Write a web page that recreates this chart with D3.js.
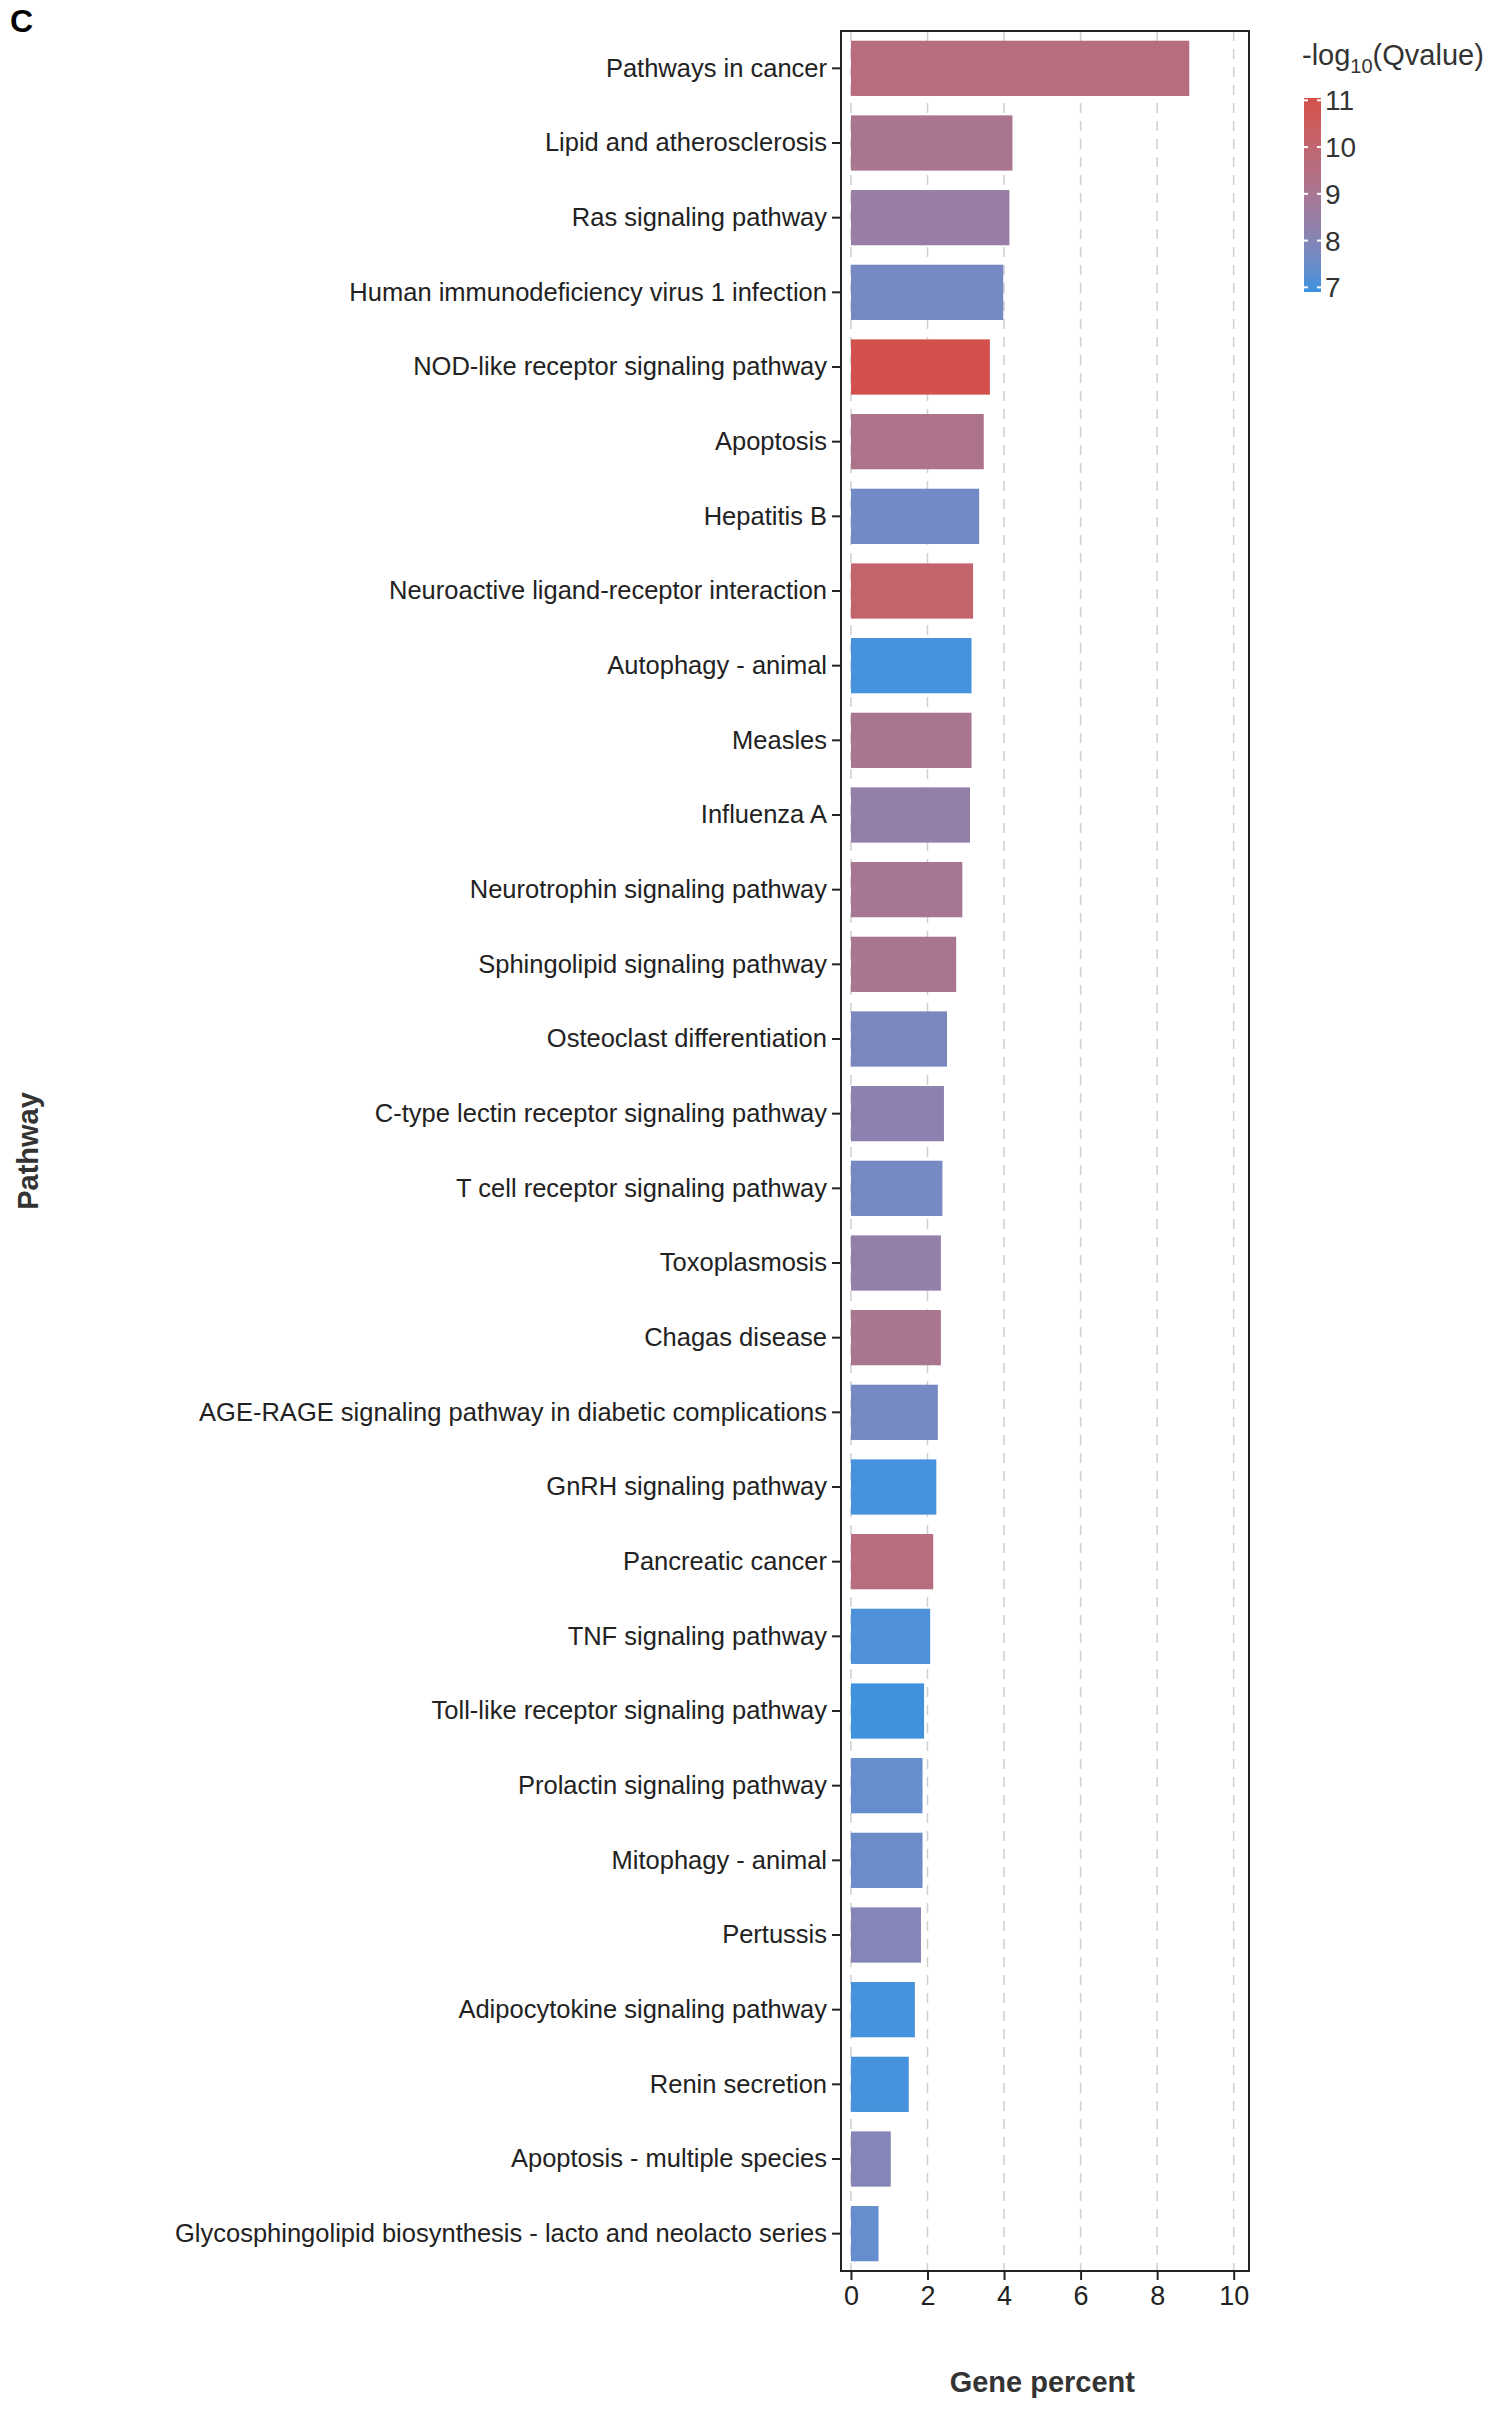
<!DOCTYPE html>
<html><head><meta charset="utf-8">
<script src="https://cdn.jsdelivr.net/npm/d3@7"></script>
<style>body{margin:0;background:#fff;font-family:"Liberation Sans",Arial,sans-serif;}</style>
</head><body>
<svg id="chart" width="1512" height="2416"></svg>
<script>
// pathway names, top to bottom
const pathways = ["Pathways in cancer","Lipid and atherosclerosis","Ras signaling pathway","Human immunodeficiency virus 1 infection","NOD-like receptor signaling pathway","Apoptosis","Hepatitis B","Neuroactive ligand-receptor interaction","Autophagy - animal","Measles","Influenza A","Neurotrophin signaling pathway","Sphingolipid signaling pathway","Osteoclast differentiation","C-type lectin receptor signaling pathway","T cell receptor signaling pathway","Toxoplasmosis","Chagas disease","AGE-RAGE signaling pathway in diabetic complications","GnRH signaling pathway","Pancreatic cancer","TNF signaling pathway","Toll-like receptor signaling pathway","Prolactin signaling pathway","Mitophagy - animal","Pertussis","Adipocytokine signaling pathway","Renin secretion","Apoptosis - multiple species","Glycosphingolipid biosynthesis - lacto and neolacto series"];
const genePercent = [8.84,4.22,4.14,3.98,3.63,3.47,3.35,3.19,3.15,3.15,3.11,2.91,2.75,2.51,2.43,2.39,2.35,2.35,2.27,2.23,2.15,2.07,1.91,1.87,1.87,1.83,1.67,1.51,1.04,0.72];
const qLog = [9.6,9.1,8.5,7.7,11.0,9.2,7.6,10.1,7.0,9.1,8.4,9.0,9.1,7.8,8.2,7.7,8.4,9.1,7.7,7.0,9.6,7.1,6.95,7.4,7.5,8.0,7.0,7.0,8.0,7.4];
const xTicks = [0,2,4,6,8,10];
const legendTicks = [7,8,9,10,11];

const svg = d3.select("#chart");
const pLeft = 841, pRight = 1249, pTop = 31, pBottom = 2271;
const txt = "#222";

const x = d3.scaleLinear().domain([-0.26, 10.4]).range([pLeft, pRight]);
const y = d3.scaleBand().domain(pathways).range([pTop, pBottom]).paddingInner(0.26).paddingOuter(0.13);
const qMin = 6.9, qMax = 11.05;
const color = d3.scaleLinear().domain([qMin, qMax]).range(["#3a93e0", "#d4504a"]).interpolate(d3.interpolateLab);

// dashed grid
svg.append("g").selectAll("line").data(xTicks).join("line")
  .attr("x1", d => x(d)).attr("x2", d => x(d)).attr("y1", pTop).attr("y2", pBottom)
  .attr("stroke", "#cfcfcf").attr("stroke-width", 1.5).attr("stroke-dasharray", "10,8");

// bars
svg.append("g").selectAll("rect").data(pathways).join("rect")
  .attr("x", x(0)).attr("y", d => y(d))
  .attr("width", (d, i) => x(genePercent[i]) - x(0))
  .attr("height", y.bandwidth())
  .attr("fill", (d, i) => color(qLog[i]));

// panel border
svg.append("rect").attr("x", pLeft).attr("y", pTop).attr("width", pRight - pLeft).attr("height", pBottom - pTop)
  .attr("fill", "none").attr("stroke", "#222").attr("stroke-width", 2);

// axes
const yAxis = svg.append("g").attr("transform", `translate(${pLeft},0)`)
  .call(d3.axisLeft(y).tickSize(9).tickPadding(5));
yAxis.select(".domain").remove();
yAxis.selectAll("text").attr("font-size", 25.5).attr("fill", txt).attr("font-family", "Liberation Sans, Arial");
yAxis.selectAll("line").attr("stroke", "#222").attr("stroke-width", 2);

const xAxis = svg.append("g").attr("transform", `translate(0,${pBottom})`)
  .call(d3.axisBottom(x).tickValues(xTicks).tickSize(9).tickPadding(6));
xAxis.select(".domain").remove();
xAxis.selectAll("text").attr("font-size", 27).attr("fill", txt).attr("font-family", "Liberation Sans, Arial");
xAxis.selectAll("line").attr("stroke", "#222").attr("stroke-width", 2);

// titles
svg.append("text").attr("x", x(5)).attr("y", 2392).attr("text-anchor", "middle")
  .attr("font-size", 29).attr("font-weight", "bold").attr("fill", "#333").text("Gene percent");
svg.append("text").attr("transform", `translate(38,${(pTop + pBottom) / 2}) rotate(-90)`)
  .attr("text-anchor", "middle").attr("font-size", 29).attr("font-weight", "bold").attr("fill", "#333").text("Pathway");
svg.append("text").attr("x", 10).attr("y", 32).attr("font-size", 32).attr("font-weight", "bold").attr("fill", "#000").text("C");

// legend
const lx = 1304, lw = 17;
const ly = d3.scaleLinear().domain([qMin, qMax]).range([292, 98]);
const lt = svg.append("text").attr("x", 1302).attr("y", 65).attr("font-size", 29).attr("fill", "#333");
lt.append("tspan").text("-log");
lt.append("tspan").attr("font-size", 20).attr("dy", 8).text("10");
lt.append("tspan").attr("dy", -8).text("(Qvalue)");
const defs = svg.append("defs");
const grad = defs.append("linearGradient").attr("id", "qgrad").attr("x1", 0).attr("y1", 1).attr("x2", 0).attr("y2", 0);
d3.range(0, 1.01, 0.1).forEach(t => grad.append("stop").attr("offset", t).attr("stop-color", color(qMin + t * (qMax - qMin))));
svg.append("rect").attr("x", lx).attr("y", ly(qMax)).attr("width", lw).attr("height", ly(qMin) - ly(qMax)).attr("fill", "url(#qgrad)");
const lg = svg.append("g");
lg.selectAll("line.a").data(legendTicks).join("line").attr("class", "a").attr("x1", lx).attr("x2", lx + 4)
  .attr("y1", d => ly(d)).attr("y2", d => ly(d)).attr("stroke", "#fff").attr("stroke-width", 2);
lg.selectAll("line.b").data(legendTicks).join("line").attr("class", "b").attr("x1", lx + lw - 4).attr("x2", lx + lw)
  .attr("y1", d => ly(d)).attr("y2", d => ly(d)).attr("stroke", "#fff").attr("stroke-width", 2);
lg.selectAll("text").data(legendTicks).join("text").attr("x", lx + lw + 4).attr("y", d => ly(d) + 10)
  .attr("font-size", 28).attr("fill", "#333").text(d => d);
</script>
</body></html>
